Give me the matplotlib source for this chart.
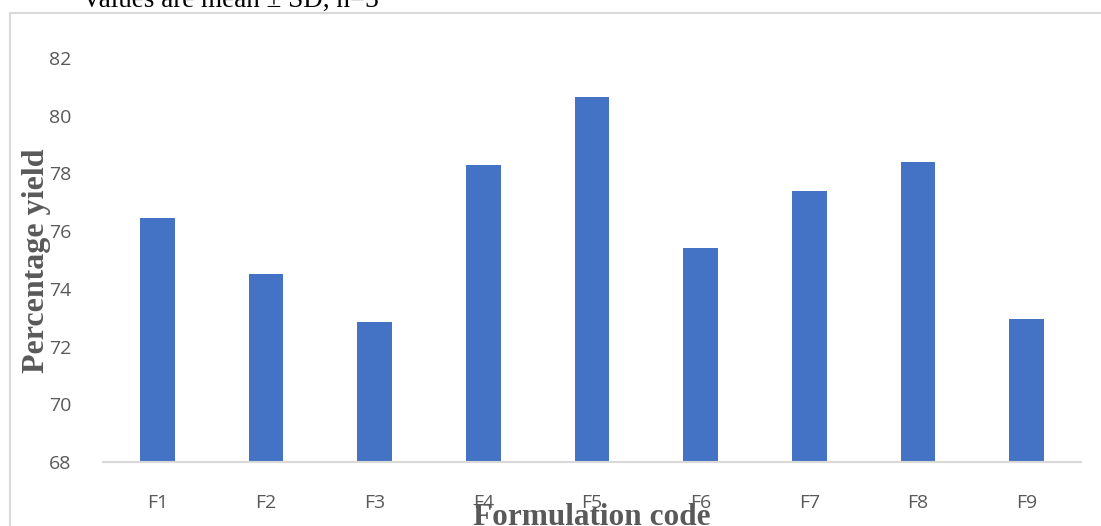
import matplotlib
matplotlib.use("Agg")
import matplotlib.pyplot as plt
from matplotlib.patches import Rectangle

# data
formulations = ["F1", "F2", "F3", "F4", "F5", "F6", "F7", "F8", "F9"]
yield_pct = [76.46, 74.51, 72.85, 78.28, 80.64, 75.40, 77.39, 78.40, 72.95]
y_ticks = [68, 70, 72, 74, 76, 78, 80, 82]

BAR_COLOR = "#4472C4"
TEXT_GRAY = "#595959"
LINE_GRAY = "#D9D9D9"

W, H = 1101, 526
fig = plt.figure(figsize=(W / 100, H / 100), dpi=100)

# chart-area frame (runs off the right and bottom edges)
fig.patches.append(Rectangle((10 / W, -0.1), 1.2, (H - 13) / H + 0.1,
                             transform=fig.transFigure, fill=False,
                             edgecolor=LINE_GRAY, linewidth=1.5))

# caption, cut off at the top as in the source
fig.text(82 / W, 1 - 7 / H, "Values are mean \u00b1 SD, n=3",
         family="Liberation Serif", fontsize=19.5, color="black",
         ha="left", va="baseline")

left, right = 103 / W, 1081 / W
bottom, top = (H - 462) / H, (H - 58) / H
ax = fig.add_axes([left, bottom, right - left, top - bottom])

x = range(len(formulations))
ax.bar(x, yield_pct, width=0.32, color=BAR_COLOR)
ax.set_xlim(-0.5, len(formulations) - 0.5)
ax.set_ylim(68, 82)
ax.set_yticks(y_ticks)
ax.set_xticks(list(x))
ax.set_xticklabels(formulations)

for s in ["top", "right", "left"]:
    ax.spines[s].set_visible(False)
ax.spines["bottom"].set_color(LINE_GRAY)
ax.spines["bottom"].set_linewidth(1.5)
ax.tick_params(axis="both", length=0, labelsize=14, labelcolor=TEXT_GRAY)
ax.tick_params(axis="y", pad=23)
ax.tick_params(axis="x", pad=23)
for lab in ax.get_xticklabels() + ax.get_yticklabels():
    lab.set_family("Open Sans")

fig.text(37 / W, 1 - 261 / H, "Percentage yield", rotation=90,
         family="Liberation Serif", fontweight="bold", fontsize=23,
         color=TEXT_GRAY, ha="center", va="center")
fig.text(592 / W, 1 - 525 / H, "Formulation code",
         family="Liberation Serif", fontweight="bold", fontsize=22.5,
         color=TEXT_GRAY, ha="center", va="baseline")

plt.savefig("out.png", dpi=100)
plt.close()
